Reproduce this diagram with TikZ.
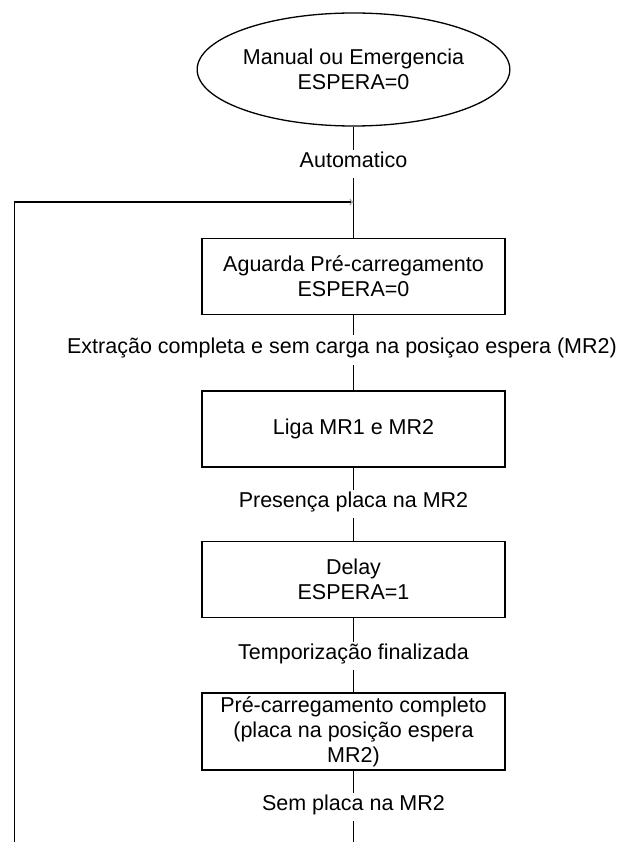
\documentclass[tikz,border=0pt]{standalone}
\usepackage{fontspec}
\setmainfont{Liberation Sans}
\usetikzlibrary{shapes.geometric,arrows.meta}
\begin{document}
\begin{tikzpicture}[x=1pt,y=-1pt,
  every node/.style={font=\fontsize{21.5}{25}\selectfont, inner sep=0pt},
  stepbox/.style={draw, line width=1.3pt, minimum width=303pt, minimum height=76pt, align=center},
  startell/.style={draw, ellipse, line width=1.3pt, minimum width=303pt, minimum height=113pt, align=center},
  cond/.style={text height=0.75em, text depth=0pt, minimum height=28pt},
  link/.style={line width=1.2pt},
  jointip/.style={-{To[color=gray!70,length=4pt 0,width=7pt 0]}}]
\useasboundingbox (0,0) rectangle (629,842);
\node[startell] (s) at (353.5,69.5) {Manual ou Emergencia\\ESPERA=0};
\node[cond] (l1) at (353.5,164) {Automatico};
\node[stepbox] (b1) at (353.5,276.5) {Aguarda Pré-carregamento\\ESPERA=0};
\node[cond, minimum height=30pt] (l2) at (342,350) {Extração completa e sem carga na posiçao espera (MR2)};
\node[stepbox] (b2) at (353.5,429) {Liga MR1 e MR2};
\node[cond] (l3) at (353.5,504) {Presença placa na MR2};
\node[stepbox] (b3) at (353.5,579.5) {Delay\\ESPERA=1};
\node[cond] (l4) at (353.5,656) {Temporização finalizada};
\node[stepbox, minimum height=77pt] (b4) at (353.5,731.5) {Pré-carregamento completo\\(placa na posição espera\\MR2)};
\node[cond] (l5) at (353.5,807) {Sem placa na MR2};
\coordinate (bot) at (353.5,842);
\coordinate (loopbot) at (14.5,842);
\coordinate (join) at (353.5,202);
\draw[link] (s) -- (l1);
\draw[link] (l1) -- (b1);
\draw[link] (b1) -- (b1 |- l2.north);
\draw[link] (b1 |- l2.south) -- (b2);
\draw[link] (b2) -- (l3);
\draw[link] (l3) -- (b3);
\draw[link] (b3) -- (l4);
\draw[link] (l4) -- (b4);
\draw[link] (b4) -- (l5);
\draw[link] (l5) -- (bot);
\draw[link, jointip] (loopbot) -- (loopbot |- join) -- (join);
\end{tikzpicture}
\end{document}
